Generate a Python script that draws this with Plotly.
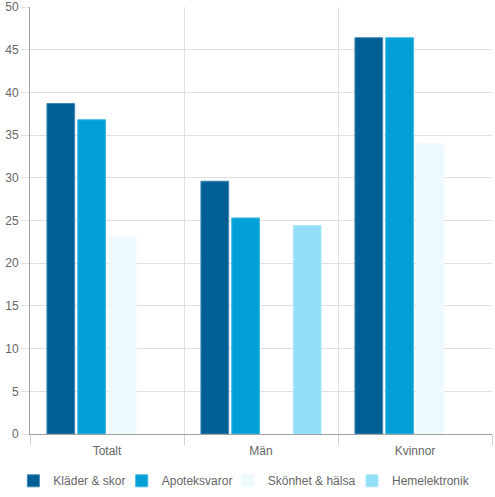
import plotly.graph_objects as go

# kategorier och serier
categories = ["Totalt", "Män", "Kvinnor"]
series_names = ["Kläder & skor", "Apoteksvaror", "Skönhet & hälsa", "Hemelektronik"]
klader = [38.7, 29.6, 46.4]
apotek = [36.8, 25.3, 46.4]
skonhet = [23.1, None, 34.0]
hemelektronik = [None, 24.4, None]
y_ticks = [0, 5, 10, 15, 20, 25, 30, 35, 40, 45, 50]

colors = ["#005f94", "#00a0d6", "#eef9fe", "#94dff8"]
borders = ["#3f86b4", "#3fb8e2", "#f3fbfe", "#a9e6fa"]

# en legend per serie, så att raden inte bryts
legend_ids = ["legend", "legend2", "legend3", "legend4"]
legend_x = [-0.036, 0.1985, 0.428, 0.697]

fig = go.Figure()
for name, vals, col, bcol, lid in zip(series_names, [klader, apotek, skonhet, hemelektronik],
                                      colors, borders, legend_ids):
    fig.add_trace(go.Bar(
        x=categories,
        y=vals,
        name=name,
        legend=lid,
        marker=dict(color=col, line=dict(color=bcol, width=1)),
    ))

legend_style = dict(
    orientation="h",
    xanchor="left",
    y=-0.1096,
    yanchor="middle",
    font=dict(size=12, color="#666666"),
    itemwidth=30,
    bgcolor="rgba(0,0,0,0)",
)

fig.update_layout(
    width=495,
    height=497,
    barmode="group",
    bargap=0.2,
    bargroupgap=0.1,
    plot_bgcolor="white",
    paper_bgcolor="white",
    margin=dict(l=30, r=3, t=7, b=63, autoexpand=False),
    font=dict(family="Liberation Sans, Arial, sans-serif", size=12, color="#666666"),
    showlegend=True,
    **{lid: dict(x=lx, **legend_style) for lid, lx in zip(legend_ids, legend_x)},
)

fig.update_xaxes(
    type="category",
    automargin=False,
    tickson="boundaries",
    showgrid=True,
    gridcolor="#e0e0e0",
    gridwidth=1,
    ticks="outside",
    ticklen=10,
    tickcolor="#d0d0d0",
    ticklabelstandoff=6,
    showline=True,
    linecolor="#a0a0a0",
    tickfont=dict(size=12, color="#666666"),
)

fig.update_yaxes(
    range=[0, 50],
    automargin=False,
    tickvals=y_ticks,
    showgrid=True,
    gridcolor="#e0e0e0",
    gridwidth=1,
    zeroline=False,
    ticks="outside",
    ticklen=8,
    tickcolor="#e0e0e0",
    showline=True,
    linecolor="#a0a0a0",
    tickfont=dict(size=12, color="#666666"),
)

fig.write_html(
    "out.html",
    config={"responsive": False, "displayModeBar": False},
    post_script="document.body.style.margin='0';document.body.style.overflow='hidden';",
)
